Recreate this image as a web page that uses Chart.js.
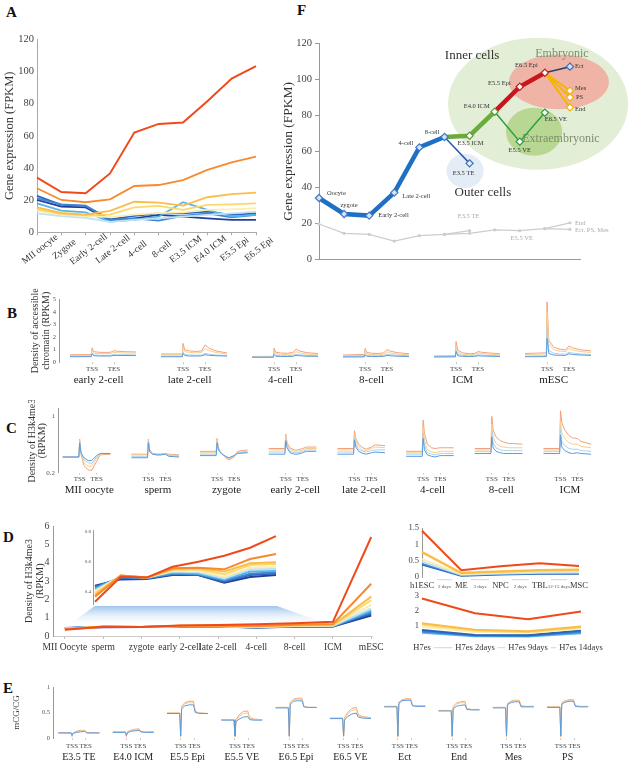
<!DOCTYPE html>
<html><head><meta charset="utf-8">
<script src="https://cdn.jsdelivr.net/npm/chart.js@4.4.1/dist/chart.umd.min.js"></script>
<style>
html,body{margin:0;padding:0;background:#fff;}
body{width:633px;height:766px;position:relative;overflow:hidden;font-family:"Liberation Serif","Times New Roman",serif;}
.lbl{position:absolute;font:bold 15px "Liberation Serif",serif;color:#111;line-height:1;}
</style></head><body>
<div class="lbl" style="left:6px;top:5px">A</div>
<div class="lbl" style="left:297px;top:3px">F</div>
<div class="lbl" style="left:7px;top:306px">B</div>
<div class="lbl" style="left:6px;top:421px">C</div>
<div class="lbl" style="left:3px;top:530px">D</div>
<div class="lbl" style="left:3px;top:681px">E</div>
<script>
// ================= DATA =================
// Panel A
const A_STAGES = ['MII oocyte','Zygote','Early 2-cell','Late 2-cell','4-cell','8-cell','E3.5 ICM','E4.0 ICM','E5.5 Epi','E6.5 Epi'];
const A_RED      = [34,25,24.3,36.6,62,67.4,68.3,81.5,95.6,103.3];
const A_ORANGE   = [27.4,20.1,18.7,20.5,28.8,29.4,32.5,38.8,43.5,47];
const A_LTORANGE = [15.5,12,11,13.3,19,18.4,16.6,21.8,23.8,24.7];
const A_YELLOW   = [14.3,11.5,10.5,11,15.5,16.4,13.9,17,17.4,18];
const A_PALE     = [13.5,11,10,9.5,11,12,12.4,13.9,14.3,14.9];
const A_CYAN     = [11.8,10,9,6.5,7.7,8.7,9.7,10.8,11.8,12.8];
const A_SKY      = [18,13.5,12.4,6.6,7.7,9.7,18.7,13.9,9.7,10.8];
const A_MID      = [21.1,17.4,16.6,7.7,8.7,7.3,10.2,11.8,9.3,10.8];
const A_BLUE     = [22.6,17,16.4,8.1,10.2,11.8,11.8,12.8,10.8,11.8];
const A_DARK     = [20.1,16,15.5,7.3,8.7,10.8,9.7,8.7,7.7,7.7];

// Panel F (x index: 0 Oocyte ... 10 terminal lineages)
const F_MAIN  = [34,25.1,24.2,37,62.2,68];      // Oocyte..8-cell
const F_TE    = [68,53.3];                      // 8-cell -> E3.5 TE
const F_ICM   = [68,68.7,82.1];                 // 8-cell -> E3.5 ICM -> E4.0 ICM
const F_EPI   = [82.1,96,103.8];                // E4.0 ICM -> E5.5 Epi -> E6.5 Epi
const F_ECT   = [103.8,107.2];
const F_MES   = [103.8,93.8];
const F_PS    = [103.8,90.1];
const F_END   = [103.8,84.5];
const F_VE    = [82.1,65.4,81.6];               // E4.0 ICM -> E5.5 VE -> E6.5 VE
const F_GRAY  = [19.5,14.3,13.7,10,13,13.7,14.3,16.2,15.8,16.9,16.5];
const F_GRAY_TE  = [13.7,15.8];
const F_GRAY_END = [16.9,20.2];

// Panel B (accessible chromatin profiles), grid = upstream | gene body | downstream
const B_NAMES = ['early 2-cell','late 2-cell','4-cell','8-cell','ICM','mESC'];
const B_GRID = [0,0.97,1.0,1.08,1.3,1.6,1.85,2.0,2.15,2.5,3.0];
const B_ORANGE = [
 [0.6,0.62,1.15,0.85,0.8,0.78,0.8,0.92,0.88,0.84,0.82],
 [0.66,0.66,1.5,1.0,0.9,0.86,0.9,1.38,1.15,0.9,0.74],
 [0.46,0.47,1.12,0.8,0.74,0.72,0.78,1.05,0.9,0.76,0.7],
 [0.58,0.62,1.1,0.78,0.72,0.7,0.75,1.02,0.88,0.76,0.68],
 [0.5,0.53,1.65,0.95,0.75,0.68,0.7,0.85,0.8,0.74,0.68],
 [0.7,0.75,4.8,1.75,1.2,1.03,0.98,1.3,1.15,1.0,0.9]];
const B_YELLOW = [
 [0.55,0.56,0.95,0.72,0.7,0.68,0.7,0.78,0.76,0.74,0.72],
 [0.6,0.6,1.2,0.85,0.78,0.75,0.78,1.1,0.95,0.78,0.66],
 [0.44,0.45,0.92,0.68,0.63,0.62,0.66,0.85,0.75,0.65,0.6],
 [0.52,0.55,0.9,0.66,0.62,0.6,0.64,0.84,0.74,0.65,0.6],
 [0.47,0.5,1.3,0.78,0.64,0.6,0.62,0.74,0.7,0.64,0.6],
 [0.62,0.66,4.0,1.45,1.0,0.88,0.85,1.1,0.98,0.86,0.78]];
const B_LTBLUE = [
 [0.48,0.49,0.75,0.58,0.56,0.55,0.56,0.62,0.6,0.6,0.58],
 [0.5,0.5,0.85,0.62,0.58,0.56,0.58,0.72,0.65,0.58,0.54],
 [0.42,0.43,0.72,0.55,0.52,0.52,0.54,0.65,0.6,0.54,0.52],
 [0.46,0.48,0.7,0.55,0.52,0.52,0.54,0.65,0.6,0.55,0.52],
 [0.44,0.46,1.0,0.62,0.54,0.52,0.53,0.6,0.58,0.54,0.52],
 [0.5,0.52,2.8,0.95,0.72,0.66,0.65,0.8,0.74,0.66,0.62]];
const B_BLUE = [
 [0.44,0.45,0.66,0.52,0.5,0.5,0.5,0.55,0.54,0.54,0.53],
 [0.44,0.44,0.7,0.54,0.5,0.5,0.51,0.6,0.56,0.52,0.5],
 [0.4,0.4,0.62,0.48,0.46,0.46,0.47,0.55,0.52,0.48,0.47],
 [0.42,0.43,0.58,0.48,0.46,0.46,0.47,0.55,0.52,0.48,0.46],
 [0.42,0.43,0.85,0.52,0.47,0.46,0.47,0.52,0.5,0.48,0.46],
 [0.44,0.45,1.9,0.7,0.58,0.55,0.55,0.68,0.62,0.58,0.55]];
const B_YTICKS = [0,1,2,3,4,5];

// Panel C (H3K4me3 profiles)
const C_NAMES = ['MII oocyte','sperm','zygote','early 2-cell','late 2-cell','4-cell','8-cell','ICM'];
const C_GRID = [0,0.95,1.0,1.08,1.25,1.5,1.7,2.0,2.2,2.8];
const C_ORANGE = [
 [0.42,0.42,0.67,0.45,0.3,0.24,0.23,0.36,0.45,0.46],
 [0.46,0.46,0.67,0.52,0.47,0.46,0.46,0.47,0.46,0.45],
 [0.5,0.5,0.68,0.55,0.47,0.41,0.38,0.42,0.5,0.52],
 [0.54,0.54,0.74,0.62,0.55,0.52,0.52,0.54,0.56,0.56],
 [0.54,0.54,0.79,0.68,0.6,0.55,0.53,0.56,0.59,0.58],
 [0.5,0.5,0.94,0.75,0.6,0.55,0.54,0.55,0.55,0.55],
 [0.54,0.54,0.99,0.8,0.7,0.65,0.63,0.61,0.61,0.6],
 [0.54,0.54,1.07,0.9,0.8,0.72,0.69,0.68,0.64,0.6]];
const C_YELLOW = [
 [0.42,0.42,0.65,0.46,0.34,0.29,0.29,0.4,0.46,0.47],
 [0.45,0.45,0.65,0.51,0.46,0.46,0.46,0.47,0.45,0.44],
 [0.48,0.48,0.66,0.54,0.47,0.42,0.4,0.43,0.49,0.5],
 [0.52,0.52,0.71,0.6,0.53,0.5,0.5,0.52,0.54,0.54],
 [0.52,0.52,0.74,0.64,0.57,0.52,0.51,0.54,0.56,0.55],
 [0.48,0.48,0.83,0.65,0.52,0.49,0.48,0.5,0.5,0.5],
 [0.52,0.52,0.88,0.7,0.61,0.57,0.56,0.55,0.55,0.55],
 [0.52,0.52,0.92,0.76,0.68,0.62,0.6,0.6,0.57,0.55]];
const C_LTBLUE = [
 [0.42,0.42,0.63,0.47,0.38,0.34,0.33,0.42,0.47,0.47],
 [0.43,0.43,0.63,0.5,0.46,0.45,0.45,0.46,0.44,0.43],
 [0.46,0.46,0.64,0.53,0.47,0.42,0.41,0.44,0.48,0.49],
 [0.49,0.49,0.68,0.57,0.5,0.48,0.48,0.5,0.52,0.52],
 [0.49,0.49,0.7,0.6,0.53,0.5,0.49,0.51,0.52,0.52],
 [0.46,0.46,0.75,0.58,0.48,0.46,0.45,0.47,0.47,0.47],
 [0.5,0.5,0.78,0.62,0.55,0.52,0.51,0.51,0.51,0.51],
 [0.5,0.5,0.8,0.64,0.58,0.54,0.53,0.53,0.51,0.5]];
const C_BLUE = [
 [0.42,0.42,0.62,0.48,0.41,0.37,0.37,0.44,0.47,0.47],
 [0.41,0.41,0.62,0.49,0.46,0.45,0.45,0.46,0.43,0.42],
 [0.44,0.44,0.62,0.52,0.47,0.43,0.41,0.44,0.47,0.48],
 [0.46,0.46,0.65,0.55,0.48,0.46,0.46,0.48,0.5,0.5],
 [0.46,0.46,0.66,0.56,0.5,0.47,0.46,0.48,0.49,0.48],
 [0.43,0.43,0.68,0.52,0.45,0.43,0.42,0.44,0.44,0.44],
 [0.47,0.47,0.7,0.55,0.5,0.48,0.47,0.47,0.47,0.47],
 [0.47,0.47,0.73,0.56,0.51,0.48,0.47,0.48,0.47,0.46]];
const C_YTICKS = [0.2,1];

// Panel D (H3K4me3 at stages)
const D_STAGES = ['MII Oocyte','sperm','zygote','early 2-cell','late 2-cell','4-cell','8-cell','ICM','mESC'];
const D_RED      = [0.335,0.502,0.496,0.569,0.602,0.642,0.695,0.773,5.4];
const D_ORANGE   = [0.369,0.509,0.496,0.558,0.562,0.551,0.62,0.653,2.85];
const D_LTORANGE = [0.38,0.509,0.496,0.553,0.558,0.536,0.591,0.598,2.15];
const D_YELLOW   = [0.391,0.509,0.496,0.547,0.551,0.518,0.58,0.587,1.95];
const D_PALE     = [0.402,0.509,0.496,0.54,0.54,0.502,0.562,0.569,1.7];
const D_CYAN     = [0.411,0.507,0.496,0.536,0.531,0.491,0.551,0.553,1.5];
const D_SKY      = [0.42,0.502,0.493,0.529,0.522,0.484,0.536,0.54,1.38];
const D_MID      = [0.429,0.498,0.491,0.522,0.518,0.476,0.522,0.531,1.3];
const D_BLUE     = [0.436,0.491,0.491,0.518,0.513,0.469,0.513,0.524,1.22];
const D_DARK     = [0.442,0.484,0.487,0.513,0.513,0.462,0.5,0.513,1.12];
const D_INSET_N  = 8; // inset shows MII Oocyte .. ICM
const D_RT_LABELS = ['h1ESC','ME','NPC','TBL','MSC'];
const D_RT_DAYS   = ['2 days','3 days','2 days','12-15 days'];
const D_RT_RED    = [1.42,0.21,0.33,0.42,0.34];
const D_RT_ORANGE = [0.76,0.12,0.17,0.21,0.22];
const D_RT_YELLOW = [0.55,0.09,0.14,0.17,0.18];
const D_RT_LTBLUE = [0.47,0.07,0.11,0.13,0.14];
const D_RT_BLUE   = [0.41,0.05,0.09,0.11,0.12];
const D_RT_DARK   = [0.38,0.04,0.08,0.1,0.1];
const D_RB_LABELS = ['H7es','H7es 2days','H7es 9days','H7es 14days'];
const D_RB_RED    = [2.84,1.85,1.46,1.97];
const D_RB_ORANGE = [1.19,0.75,0.65,0.97];
const D_RB_YELLOW = [1.1,0.7,0.6,0.92];
const D_RB_PALE   = [0.95,0.6,0.55,0.82];
const D_RB_DARK   = [0.74,0.4,0.38,0.7];
const D_RB_BLUE   = [0.64,0.36,0.35,0.6];
const D_RB_LTBLUE = [0.55,0.32,0.3,0.52];

// Panel E (mCG/CG profiles)
const E_NAMES = ['E3.5 TE','E4.0 ICM','E5.5 Epi','E5.5 VE','E6.5 Epi','E6.5 VE','Ect','End','Mes','PS'];
const E_GRID = [0,0.93,1.0,1.07,1.3,1.6,1.93,2.07,2.4,3.0];
const E_ORANGE = [
 [0.1,0.1,0.03,0.1,0.13,0.15,0.15,0.11,0.1,0.1],
 [0.12,0.12,0.03,0.12,0.15,0.17,0.18,0.13,0.12,0.12],
 [0.49,0.49,0.02,0.62,0.69,0.72,0.72,0.52,0.49,0.48],
 [0.36,0.36,0.02,0.36,0.45,0.52,0.53,0.4,0.37,0.36],
 [0.6,0.6,0.02,0.7,0.76,0.78,0.78,0.62,0.6,0.6],
 [0.39,0.39,0.02,0.4,0.5,0.58,0.6,0.46,0.42,0.4],
 [0.62,0.62,0.02,0.7,0.75,0.77,0.77,0.64,0.63,0.63],
 [0.54,0.54,0.02,0.62,0.68,0.71,0.72,0.58,0.56,0.56],
 [0.6,0.6,0.02,0.68,0.72,0.74,0.74,0.63,0.62,0.62],
 [0.61,0.61,0.02,0.69,0.73,0.75,0.75,0.63,0.62,0.62]];
const E_YELLOW = [
 [0.1,0.1,0.04,0.1,0.12,0.14,0.14,0.1,0.1,0.1],
 [0.12,0.12,0.04,0.11,0.14,0.16,0.16,0.12,0.12,0.12],
 [0.49,0.49,0.03,0.6,0.67,0.69,0.69,0.51,0.49,0.48],
 [0.36,0.36,0.03,0.34,0.42,0.48,0.49,0.38,0.36,0.36],
 [0.6,0.6,0.03,0.69,0.75,0.76,0.76,0.62,0.6,0.6],
 [0.39,0.39,0.03,0.38,0.47,0.54,0.56,0.44,0.41,0.39],
 [0.62,0.62,0.03,0.69,0.74,0.76,0.76,0.64,0.63,0.63],
 [0.54,0.54,0.03,0.6,0.66,0.69,0.69,0.57,0.56,0.56],
 [0.6,0.6,0.03,0.67,0.71,0.73,0.73,0.62,0.62,0.62],
 [0.61,0.61,0.03,0.68,0.72,0.74,0.74,0.63,0.62,0.62]];
const E_BLUE = [
 [0.1,0.1,0.05,0.09,0.11,0.12,0.13,0.1,0.1,0.1],
 [0.11,0.11,0.05,0.1,0.13,0.14,0.15,0.12,0.11,0.11],
 [0.48,0.48,0.04,0.57,0.63,0.65,0.65,0.5,0.48,0.48],
 [0.35,0.35,0.04,0.32,0.37,0.41,0.42,0.36,0.35,0.35],
 [0.59,0.59,0.04,0.66,0.72,0.73,0.73,0.61,0.6,0.6],
 [0.38,0.38,0.04,0.35,0.42,0.47,0.49,0.41,0.39,0.38],
 [0.61,0.61,0.04,0.68,0.73,0.74,0.74,0.63,0.62,0.62],
 [0.53,0.53,0.04,0.57,0.62,0.64,0.65,0.56,0.55,0.55],
 [0.59,0.59,0.04,0.65,0.69,0.71,0.71,0.61,0.61,0.61],
 [0.6,0.6,0.04,0.66,0.7,0.72,0.72,0.62,0.61,0.61]];
const E_YTICKS = [0,0.5,1];

// ================= STYLE / HELPERS =================
const FONT = '"Liberation Serif","Times New Roman",serif';
Chart.defaults.font.family = FONT;
Chart.defaults.color = '#444';
Chart.defaults.animation = false;
Chart.defaults.responsive = true;
Chart.defaults.maintainAspectRatio = false;
Chart.defaults.plugins.legend.display = false;
Chart.defaults.plugins.tooltip.enabled = false;
Chart.defaults.elements.point.radius = 0;
Chart.defaults.elements.line.tension = 0;

const COL = {red:'#ef4a1a', orange:'#f7892e', ltorange:'#fbbd4a', yellow:'#fcd86c', pale:'#fbeeb0',
  cyan:'#bfe1f2', sky:'#55b4ea', mid:'#3d86d2', blue:'#2d63bd', dark:'#243f98'};
const PCOL = {orange:'#f4a07a', yellow:'#f6cf8e', ltblue:'#a9d3ee', blue:'#5b9ade'};

function mk(l,t,w,h){
  const d=document.createElement('div');
  d.style.cssText=`position:absolute;left:${l}px;top:${t}px;width:${w}px;height:${h}px;`;
  const c=document.createElement('canvas'); d.appendChild(c); document.body.appendChild(d); return c;
}
const fixW = w => s => { s.width = w; };
const fixH = h => s => { s.height = h; };
const line = (data, color, w) => ({data, borderColor:color, borderWidth:w, pointRadius:0, fill:false, clip:false});
const xy = (arr, x0) => arr.map((v,i)=>({x:x0+i, y:v}));

// ================= PANEL A =================
const aRot = {id:'aRot', afterDraw(chart){
  const {ctx} = chart; const x = chart.scales.x; const base = chart.chartArea.bottom;
  ctx.save(); ctx.font = '9.5px '+FONT; ctx.fillStyle = '#333'; ctx.textAlign='center'; ctx.textBaseline='middle';
  A_STAGES.forEach((s,i)=>{ ctx.save(); ctx.translate(x.getPixelForValue(i)+3, base+17); ctx.rotate(-38*Math.PI/180); ctx.fillText(s,0,0); ctx.restore(); });
  ctx.restore();
}};
new Chart(mk(0,0,280,275), {
  type:'line',
  data:{labels:A_STAGES, datasets:[
    line(A_DARK,COL.dark,1.8), line(A_BLUE,COL.blue,1.8), line(A_MID,COL.mid,1.8), line(A_SKY,COL.sky,1.8),
    line(A_CYAN,COL.cyan,1.8), line(A_PALE,COL.pale,1.8), line(A_YELLOW,COL.yellow,1.8), line(A_LTORANGE,COL.ltorange,1.8),
    line(A_ORANGE,COL.orange,1.8), line(A_RED,COL.red,2)].reverse()},
  options:{
    layout:{padding:{left:0, top:39.3, right:24, bottom:4.7}},
    scales:{
      x:{type:'category', offset:false, grid:{display:true, drawOnChartArea:false, tickLength:3, color:'#aaa'}, border:{color:'#aaa'}, ticks:{display:false}, afterFit:fixH(38)},
      y:{min:0, max:120, ticks:{stepSize:20, font:{size:10.5}, color:'#444', padding:3}, grid:{display:false, drawTicks:false}, border:{color:'#aaa'},
         title:{display:true, text:'Gene expression (FPKM)', font:{size:12.5}, color:'#333', padding:{top:2,bottom:0}}, afterFit:fixW(37)}
    }
  },
  plugins:[aRot]
});

// ================= PANEL F =================
const F_ELLIPSES = [
  {cx:8.73, cy:86.5, rx:3.59, ry:36.8, color:'#e3eed7'},
  {cx:5.82, cy:49.1, rx:0.74, ry:9.5, color:'#e4edf5'},
  {cx:9.56, cy:98.7, rx:1.99, ry:15.3, color:'#efb4a5'},
  {cx:8.57, cy:70.9, rx:1.12, ry:13.4, color:'#b8d792'}];
const F_NODE_LABELS = [
  {t:'Oocyte', x:0, v:F_MAIN[0], dx:8, dy:-5, al:'left'},
  {t:'zygote', x:1, v:F_MAIN[1], dx:5, dy:-9, al:'center'},
  {t:'Early 2-cell', x:2, v:F_MAIN[2], dx:9, dy:0, al:'left'},
  {t:'Late 2-cell', x:3, v:F_MAIN[3], dx:8, dy:4, al:'left'},
  {t:'4-cell', x:4, v:F_MAIN[4], dx:-6, dy:-4, al:'right'},
  {t:'8-cell', x:5, v:F_MAIN[5], dx:-5, dy:-5, al:'right'},
  {t:'E3.5 ICM', x:6, v:F_ICM[1], dx:1, dy:8, al:'center'},
  {t:'E3.5 TE', x:6, v:F_TE[1], dx:-6, dy:10, al:'center'},
  {t:'E4.0 ICM', x:7, v:F_ICM[2], dx:-5, dy:-5, al:'right'},
  {t:'E5.5 Epi', x:8, v:F_EPI[1], dx:-9, dy:-3, al:'right'},
  {t:'E6.5 Epi', x:9, v:F_EPI[2], dx:-7, dy:-7, al:'right'},
  {t:'Ect', x:10, v:F_ECT[1], dx:5, dy:0, al:'left'},
  {t:'Mes', x:10, v:F_MES[1], dx:5, dy:-2, al:'left'},
  {t:'PS', x:10, v:F_PS[1], dx:6, dy:0, al:'left'},
  {t:'End', x:10, v:F_END[1], dx:5, dy:2, al:'left'},
  {t:'E5.5 VE', x:8, v:F_VE[1], dx:0, dy:9, al:'center'},
  {t:'E6.5 VE', x:9, v:F_VE[2], dx:11, dy:7, al:'center'},
  {t:'E3.5 TE', x:6, v:F_GRAY_TE[1], dx:-1, dy:-14, al:'center', gray:true},
  {t:'E5.5 VE', x:8, v:F_GRAY[8], dx:2, dy:8, al:'center', gray:true},
  {t:'End', x:10, v:F_GRAY_END[1], dx:5, dy:1, al:'left', gray:true},
  {t:'Ect, PS, Mes', x:10, v:F_GRAY[10], dx:5, dy:1, al:'left', gray:true}];
const F_BIG_LABELS = [
  {t:'Inner cells', x:6.1, v:113.3, size:13, color:'#333'},
  {t:'Embryonic', x:9.68, v:114.4, size:12, color:'#7d8e6c'},
  {t:'Extraembryonic', x:9.64, v:66.9, size:12, color:'#7d8e6c'},
  {t:'Outer cells', x:6.53, v:36.8, size:13, color:'#333'}];
const fDecor = {id:'fDecor',
  beforeDatasetsDraw(chart){
    const {ctx, scales:{x,y}} = chart; ctx.save();
    F_ELLIPSES.forEach(e=>{
      const cx=x.getPixelForValue(e.cx), cy=y.getPixelForValue(e.cy);
      const rx=Math.abs(x.getPixelForValue(e.cx+e.rx)-cx), ry=Math.abs(y.getPixelForValue(e.cy+e.ry)-cy);
      ctx.beginPath(); ctx.ellipse(cx,cy,rx,ry,0,0,Math.PI*2); ctx.fillStyle=e.color; ctx.fill();
    });
    ctx.textBaseline='middle'; ctx.textAlign='center';
    F_BIG_LABELS.forEach(l=>{ ctx.font=l.size+'px '+FONT; ctx.fillStyle=l.color; ctx.fillText(l.t, x.getPixelForValue(l.x), y.getPixelForValue(l.v)); });
    ctx.restore();
  },
  afterDatasetsDraw(chart){
    const {ctx, scales:{x,y}} = chart; ctx.save(); ctx.textBaseline='middle';
    F_NODE_LABELS.forEach(l=>{ ctx.font='6.5px '+FONT; ctx.fillStyle=l.gray?'#aaa':'#333'; ctx.textAlign=l.al;
      ctx.fillText(l.t, x.getPixelForValue(l.x)+l.dx, y.getPixelForValue(l.v)+l.dy); });
    ctx.restore();
  }};
const fNodesData = [...xy(F_MAIN,0), {x:6,y:F_TE[1]}, {x:6,y:F_ICM[1]}, {x:7,y:F_ICM[2]}, {x:8,y:F_EPI[1]}, {x:9,y:F_EPI[2]},
  {x:10,y:F_ECT[1]}, {x:10,y:F_MES[1]}, {x:10,y:F_PS[1]}, {x:10,y:F_END[1]}, {x:8,y:F_VE[1]}, {x:9,y:F_VE[2]}];
const fNodeBorder = ['#3f78c4','#3f78c4','#3f78c4','#3f78c4','#3f78c4','#3f78c4','#3f6cb4','#5c9c3c','#5c9c3c','#c0202a','#c0202a','#3f6cb4','#f0b000','#f0b000','#f0b000','#2e9a40','#2e9a40'];
const fNodeFill = ['#d5e4f6','#d5e4f6','#d5e4f6','#d5e4f6','#d5e4f6','#d5e4f6','#e8eef8','#fff','#fff','#fff','#fff','#d5e4f6','#fff','#fff','#fff','#fff','#fff'];
const gray = (data)=>({data, borderColor:'#cdcdcd', borderWidth:1.3, pointRadius:1.6, pointBackgroundColor:'#cdcdcd', pointBorderWidth:0, clip:false});
new Chart(mk(250,0,383,270), {
  type:'line',
  data:{datasets:[
    {data:fNodesData, showLine:false, pointStyle:'rectRot', pointRadius:3.6, pointBorderWidth:1.2, pointBorderColor:fNodeBorder, pointBackgroundColor:fNodeFill, clip:false},
    line(xy(F_EPI,7),'#c8161d',4.5), line(xy(F_ICM,5),'#6aab3b',4.5), line(xy(F_MAIN,0),'#1f6fc5',4.5),
    line(xy(F_ECT,9),'#2b3f6b',1.6), line(xy(F_MES,9),'#f5b400',2), line(xy(F_PS,9),'#f5b400',2), line(xy(F_END,9),'#f5b400',2),
    line(xy(F_VE,7),'#2e9e3e',1.5), line(xy(F_TE,5),'#2a5caa',1.5),
    gray(xy(F_GRAY_END,9)), gray(xy(F_GRAY_TE,5)), gray(xy(F_GRAY,0))]},
  options:{
    layout:{padding:{left:0, top:43.7, right:53, bottom:0}},
    scales:{
      x:{type:'linear', min:0, max:10.4, ticks:{display:false}, grid:{display:false, drawTicks:false}, border:{color:'#999'}, afterFit:fixH(11)},
      y:{min:0, max:120, ticks:{stepSize:20, font:{size:10.5}, color:'#444', padding:3}, grid:{display:true, drawOnChartArea:false, tickLength:4, color:'#999'}, border:{color:'#999'},
         title:{display:true, text:'Gene expression (FPKM)', font:{size:13.5}, color:'#333', padding:{top:30,bottom:0}}, afterFit:fixW(69)}
    }
  },
  plugins:[fDecor]
});

// ================= PROFILE PANELS (B, C, E) =================
function profileChart(canvas, P){
  const starts = P.names.map((_,k)=>P.start0 + k*P.pitch);
  const ds=[];
  P.series.forEach(s=>{ s.data.forEach((arr,k)=>{
    ds.push(line(arr.map((v,i)=>({x:starts[k]+P.grid[i], y:v})), s.color, P.lw||1));
  }); });
  const tssTicks=[], tssLabels=[];
  starts.forEach(s=>{ tssTicks.push(s+1, s+2); tssLabels.push('TSS','TES'); });
  const nameTicks = starts.map(s=>s+P.nameOff);
  return new Chart(canvas,{type:'line', data:{datasets:ds}, options:{
    layout:{padding:P.pad},
    scales:{
      x:{type:'linear', min:P.min, max:P.max, afterBuildTicks:s=>{s.ticks=tssTicks.map(v=>({value:v}));},
         ticks:{autoSkip:false, maxRotation:0, minRotation:0, font:{size:P.tsSize}, color:'#444', padding:P.tsPad, callback:(v,i)=>tssLabels[i]},
         grid:{display:true, drawOnChartArea:false, tickLength:2, color:'#ccc'}, border:{display:false}, afterFit:fixH(P.xH)},
      x2:{type:'linear', position:'bottom', min:P.min, max:P.max, afterBuildTicks:s=>{s.ticks=nameTicks.map(v=>({value:v}));},
         ticks:{autoSkip:false, maxRotation:0, minRotation:0, font:{size:P.nmSize}, color:'#222', padding:0, callback:(v,i)=>P.names[i]},
         grid:{display:false, drawTicks:false}, border:{display:false}, afterFit:fixH(P.x2H)},
      y:{min:P.ymin, max:P.ymax, afterBuildTicks:s=>{s.ticks=P.yticks.map(v=>({value:v}));},
         ticks:{font:{size:P.ytSize}, color:'#555', padding:P.ytPad, callback:v=>String(v)},
         grid:{display:false, drawTicks:false}, border:{color:'#999'},
         title:{display:true, text:P.title, font:{size:P.tSize, lineHeight:P.tLH}, color:'#333', padding:{top:P.tPad,bottom:0}}, afterFit:fixW(P.yW)}
    }}});
}

profileChart(mk(0,285,633,105), {
  names:B_NAMES, grid:B_GRID, start0:0, pitch:4.136, min:-0.5, max:23.86, nameOff:1.3,
  series:[{color:PCOL.blue,data:B_BLUE},{color:PCOL.ltblue,data:B_LTBLUE},{color:PCOL.yellow,data:B_YELLOW},{color:PCOL.orange,data:B_ORANGE}],
  ymin:0, ymax:5, yticks:B_YTICKS, ytSize:6.5, ytPad:3,
  pad:{left:0, top:14.3, right:38, bottom:3.7}, yW:59, xH:11, x2H:13, tsSize:7, tsPad:0.8, nmSize:11,
  title:['Density of accessible','chromatin (RPKM)'], tSize:10, tLH:1.1, tPad:29.5});

profileChart(mk(0,400,633,100), {
  names:C_NAMES, grid:C_GRID, start0:0, pitch:4.04, min:-0.276, max:31.31, nameOff:1.56,
  series:[{color:PCOL.blue,data:C_BLUE},{color:PCOL.ltblue,data:C_LTBLUE},{color:PCOL.yellow,data:C_YELLOW},{color:PCOL.orange,data:C_ORANGE}],
  ymin:0.2, ymax:1.1, yticks:C_YTICKS, ytSize:7, ytPad:3,
  pad:{left:0, top:8.6, right:38, bottom:2.6}, yW:58, xH:10.7, x2H:14, tsSize:7, tsPad:0.4, nmSize:11,
  title:['Density of H3k4me3','(RPKM)'], tSize:10, tLH:1.0, tPad:27.7});

profileChart(mk(0,680,633,86), {
  names:E_NAMES, grid:E_GRID, start0:0, pitch:3.972, min:-0.395, max:39.03, nameOff:1.5,
  series:[{color:PCOL.blue,data:E_BLUE},{color:PCOL.yellow,data:E_YELLOW},{color:PCOL.orange,data:E_ORANGE}],
  ymin:0, ymax:1, yticks:E_YTICKS, ytSize:6.5, ytPad:3,
  pad:{left:0, top:7, right:41, bottom:2.7}, yW:53, xH:13.3, x2H:12, tsSize:7, tsPad:1.5, nmSize:10,
  title:'mCG/CG', tSize:9, tLH:1.2, tPad:11.6});

// ================= PANEL D (left) =================
const D_TRAP = [[0.78,1.64],[5.54,1.64],[7,0.55],[0,0.45]];
const dTrap = {id:'dTrap', beforeDatasetsDraw(chart){
  const {ctx, scales:{x,y}} = chart;
  const p = D_TRAP.map(([a,b])=>[x.getPixelForValue(a), y.getPixelForValue(b)]);
  const g = ctx.createLinearGradient(0,p[0][1],0,p[2][1]);
  g.addColorStop(0,'rgba(140,185,232,0.85)'); g.addColorStop(1,'rgba(255,255,255,0)');
  ctx.save(); ctx.beginPath(); ctx.moveTo(p[0][0],p[0][1]); p.slice(1).forEach(q=>ctx.lineTo(q[0],q[1])); ctx.closePath(); ctx.fillStyle=g; ctx.fill(); ctx.restore();
}};
const D_SERIES = [[D_DARK,COL.dark],[D_BLUE,COL.blue],[D_MID,COL.mid],[D_SKY,COL.sky],[D_CYAN,COL.cyan],[D_PALE,COL.pale],[D_YELLOW,COL.yellow],[D_LTORANGE,COL.ltorange],[D_ORANGE,COL.orange],[D_RED,COL.red]];
new Chart(mk(0,515,400,145), {
  type:'line',
  data:{datasets:D_SERIES.map(([a,c])=>line(xy(a,0),c,2)).reverse()},
  options:{
    layout:{padding:{left:0, top:11, right:28, bottom:4}},
    scales:{
      x:{type:'linear', min:-0.31, max:8.02, afterBuildTicks:s=>{s.ticks=D_STAGES.map((_,i)=>({value:i}));},
         ticks:{autoSkip:false, maxRotation:0, minRotation:0, font:{size:9.5}, color:'#333', padding:3, callback:(v,i)=>D_STAGES[i]},
         grid:{display:true, drawOnChartArea:false, tickLength:3, color:'#bbb'}, border:{color:'#ccc'}, afterFit:fixH(20)},
      y:{min:0, max:6, ticks:{stepSize:1, font:{size:10}, color:'#444', padding:3.5}, grid:{display:false, drawTicks:false}, border:{color:'#999'},
         title:{display:true, text:['Density of H3k4me3','(RPKM)'], font:{size:10, lineHeight:1.05}, color:'#333', padding:{top:24.5,bottom:0}}, afterFit:fixW(53)}
    }
  },
  plugins:[dTrap]
});
// inset
new Chart(mk(58,522,230,92), {
  type:'line',
  data:{datasets:D_SERIES.map(([a,c])=>line(xy(a.slice(0,D_INSET_N),0),c,2)).reverse()},
  options:{
    layout:{padding:{left:0, top:8.5, right:11, bottom:10}},
    scales:{
      x:{type:'linear', min:-0.077, max:7.04, display:false},
      y:{min:0.32, max:0.81, afterBuildTicks:s=>{s.ticks=[0.4,0.6,0.8].map(v=>({value:v}));}, ticks:{font:{size:5}, color:'#555', padding:2, callback:v=>String(v)},
         grid:{display:false, drawTicks:false}, border:{color:'#999'}, afterFit:fixW(35)}
    }
  }
});

// ================= PANEL D (right) =================
function connectors(labels, days, font, lineDy){
  return {id:'conn', afterDraw(chart){
    const {ctx} = chart; const x = chart.scales.x; const ly = x.top + x.options.ticks.padding + font*0.6;
    ctx.save(); ctx.font = font+'px '+FONT; const w = labels.map(s=>ctx.measureText(s).width);
    ctx.strokeStyle='#c3daf0'; ctx.lineWidth=1;
    for(let i=0;i<labels.length-1;i++){
      const a = x.getPixelForValue(i)+w[i]/2+3, b = x.getPixelForValue(i+1)-w[i+1]/2-3;
      ctx.beginPath(); ctx.moveTo(a, ly+lineDy); ctx.lineTo(b, ly+lineDy); ctx.stroke();
      if(days){ ctx.save(); ctx.font='5px '+FONT; ctx.fillStyle='#555'; ctx.textAlign='center'; ctx.textBaseline='middle'; ctx.fillText(days[i], (a+b)/2, ly+1); ctx.restore(); }
    }
    ctx.restore();
  }};
}
function smallLine(canvas, labels, series, ymax, yticks, pad, xPad, yBorder, days, lineDy){
  return new Chart(canvas, {
    type:'line',
    data:{datasets:series.map(([a,c,w])=>line(xy(a,0),c,w))},
    options:{
      layout:{padding:pad},
      scales:{
        x:{type:'linear', min:0, max:labels.length-1, afterBuildTicks:s=>{s.ticks=labels.map((_,i)=>({value:i}));},
           ticks:{autoSkip:false, maxRotation:0, minRotation:0, font:{size:8.5}, color:'#333', padding:xPad, callback:(v,i)=>labels[i]},
           grid:{display:false, drawTicks:false}, border:{display:false}, afterFit:fixH(13)},
        y:{min:0, max:ymax, afterBuildTicks:s=>{s.ticks=yticks.map(v=>({value:v}));}, ticks:{font:{size:8.5}, color:'#444', padding:3, callback:v=>String(v)},
           grid:{display:false, drawTicks:false}, border:{display:yBorder, color:'#999'}, afterFit:fixW(27)}
      }
    },
    plugins:[connectors(labels, days, 8.5, lineDy)]
  });
}
smallLine(mk(395,520,238,75), D_RT_LABELS,
  [[D_RT_RED,COL.red,2],[D_RT_ORANGE,COL.ltorange,2.5],[D_RT_YELLOW,COL.pale,2],[D_RT_LTBLUE,COL.cyan,2],[D_RT_BLUE,COL.mid,2],[D_RT_DARK,COL.blue,2]],
  1.5, [0,0.5,1,1.5], {left:0, top:8, right:54, bottom:5}, 3.6, true, D_RT_DAYS, -6);
smallLine(mk(395,588,238,70), D_RB_LABELS,
  [[D_RB_RED,COL.red,2],[D_RB_ORANGE,COL.ltorange,2],[D_RB_YELLOW,COL.yellow,2],[D_RB_PALE,COL.pale,2],[D_RB_DARK,COL.blue,2],[D_RB_BLUE,COL.mid,2],[D_RB_LTBLUE,COL.sky,2]],
  3, [1,2,3], {left:0, top:4.7, right:52, bottom:4}, 1.6, false, null, 0);
</script>
</body></html>
